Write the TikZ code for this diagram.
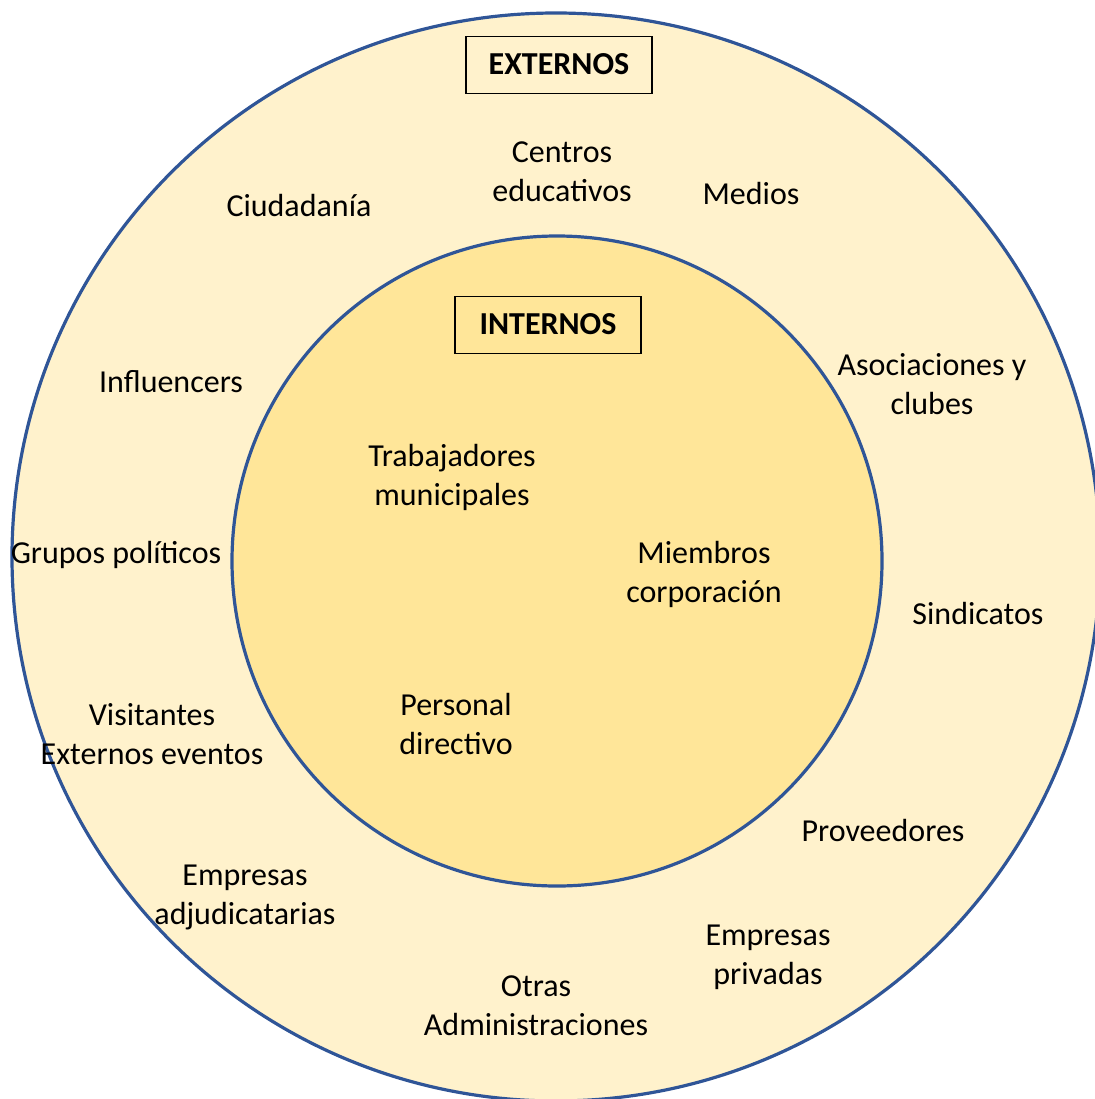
\documentclass[tikz,border=0pt]{standalone}
\usepackage{fontspec}
\setmainfont{Carlito}
\usepackage{tikz}
\usetikzlibrary{calc}

\definecolor{outerfill}{HTML}{FFF2CC}
\definecolor{innerfill}{HTML}{FFE699}
\definecolor{ringblue}{HTML}{2F5597}

\tikzset{
    grupo/.style={align=center, inner sep=0pt, font=\fontsize{24}{29.25}\selectfont},
    titulo/.style={draw=black, line width=1.2pt, minimum width=139.5pt, minimum height=43pt,
        font=\fontsize{24}{29.25}\selectfont\bfseries},
}

\begin{document}
\begin{tikzpicture}[x=0.75pt, y=-0.75pt]
        \def\R{544}  % radius of outer ring
        \def\r{325}  % radius of inner ring

        % Fix the page size
        \useasboundingbox (0,0) rectangle (1095,1099);

        % Centres of the two rings
        \coordinate (O) at (556, 557);
        \coordinate (I) at (557, 561);

        % Draw the rings
        \begin{scope}
            \clip (0,0) rectangle (1095,1099);
            \filldraw[fill=outerfill, draw=ringblue, line width=2.4pt] (O) circle(\R);
        \end{scope}
        \filldraw[fill=innerfill, draw=ringblue, line width=2.4pt] (I) circle(\r);

        % Titles
        \node[titulo, text depth=1pt] (externos) at (559, 65) {EXTERNOS};
        \node[titulo, text depth=1pt] (internos) at (548, 325) {INTERNOS};

        % Internal groups
        \node[grupo] (trabajadores) at (452, 477) {Trabajadores\\municipales};
        \node[grupo] (miembros) at (704, 574) {Miembros\\corporación};
        \node[grupo] (personal) at (456, 724) {Personal\\directivo};

        % External groups
        \node[grupo] (centros) at (562, 172) {Centros\\educativos};
        \node[grupo] (medios) at (751, 194) {Medios};
        \node[grupo] (ciudadania) at (299, 206) {Ciudadanía};
        \node[grupo] (influencers) at (171, 382) {Influencers};
        \node[grupo] (asociaciones) at (932, 384) {Asociaciones y\\clubes};
        \node[grupo] (grupos) at (116, 555) {Grupos políticos};
        \node[grupo] (sindicatos) at (978, 614) {Sindicatos};
        \node[grupo] (visitantes) at (152, 734) {Visitantes\\Externos eventos};
        \node[grupo] (proveedores) at (883, 830) {Proveedores};
        \node[grupo] (adjudicatarias) at (245, 897) {Empresas\\adjudicatarias};
        \node[grupo] (privadas) at (768, 957) {Empresas\\privadas};
        \node[grupo] (administraciones) at (536, 1006) {Otras\\Administraciones};

      \end{tikzpicture}
\end{document}
